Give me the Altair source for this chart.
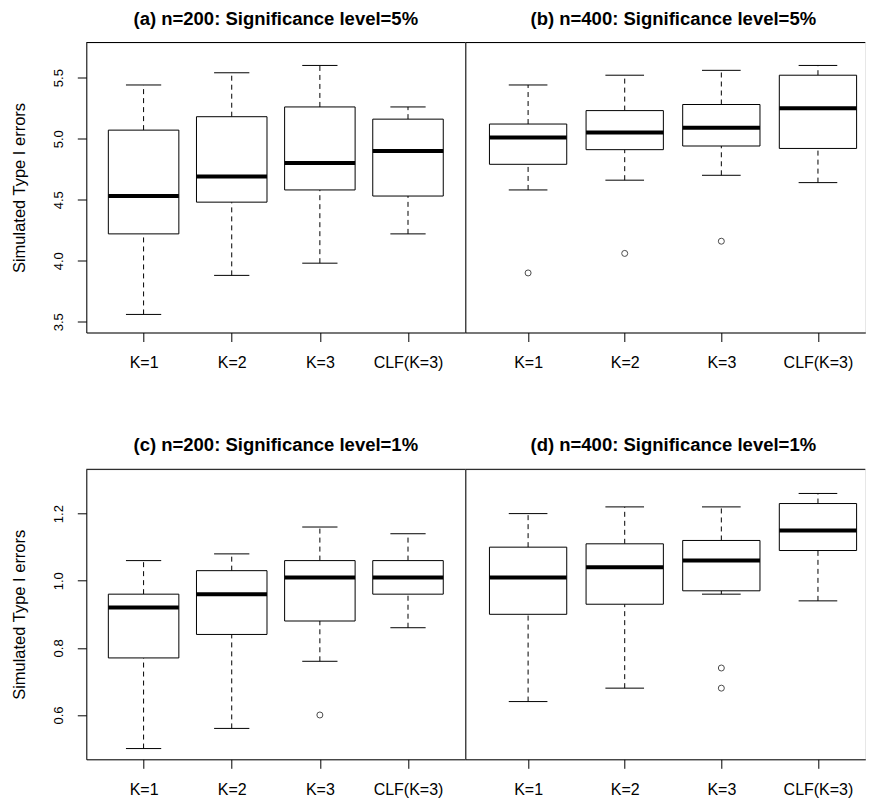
import altair as alt
import pandas as pd

categories = ["K=1", "K=2", "K=3", "CLF(K=3)"]
positions = [1, 2, 3, 4]

titles = [
    "(a) n=200: Significance level=5%",
    "(b) n=400: Significance level=5%",
    "(c) n=200: Significance level=1%",
    "(d) n=400: Significance level=1%",
]

# panel (a)
a_low = [3.56, 3.88, 3.98, 4.22]
a_q1 = [4.22, 4.48, 4.58, 4.53]
a_med = [4.53, 4.69, 4.80, 4.90]
a_q3 = [5.07, 5.18, 5.26, 5.16]
a_up = [5.44, 5.54, 5.60, 5.26]
a_out_cat = []
a_out_val = []

# panel (b)
b_low = [4.58, 4.66, 4.70, 4.64]
b_q1 = [4.79, 4.91, 4.94, 4.92]
b_med = [5.01, 5.05, 5.09, 5.25]
b_q3 = [5.12, 5.23, 5.28, 5.52]
b_up = [5.44, 5.52, 5.56, 5.60]
b_out_cat = ["K=1", "K=2", "K=3"]
b_out_val = [3.90, 4.06, 4.16]

# panel (c)
c_low = [0.50, 0.56, 0.76, 0.86]
c_q1 = [0.77, 0.84, 0.88, 0.96]
c_med = [0.92, 0.96, 1.01, 1.01]
c_q3 = [0.96, 1.03, 1.06, 1.06]
c_up = [1.06, 1.08, 1.16, 1.14]
c_out_cat = ["K=3"]
c_out_val = [0.60]

# panel (d)
d_low = [0.64, 0.68, 0.96, 0.94]
d_q1 = [0.90, 0.93, 0.97, 1.09]
d_med = [1.01, 1.04, 1.06, 1.15]
d_q3 = [1.10, 1.11, 1.12, 1.23]
d_up = [1.20, 1.22, 1.22, 1.26]
d_out_cat = ["K=3", "K=3"]
d_out_val = [0.74, 0.68]

top_domain = [3.412, 5.788]
top_ticks = [3.5, 4.0, 4.5, 5.0, 5.5]
bot_domain = [0.468, 1.332]
bot_ticks = [0.6, 0.8, 1.0, 1.2]

FONT = "Liberation Sans"
LEFT_W = 379
RIGHT_W = 400


def panel(title, low, q1, med, q3, up, out_cat, out_val, ydom, yvals, left, xmax, width, dx):
    df = pd.DataFrame({"cat": categories, "pos": positions, "low": low, "q1": q1,
                       "med": med, "q3": q3, "up": up})
    label_expr = "[" + ",".join("'%s'" % c for c in categories) + "][datum.value - 1]"
    xs = alt.Scale(domain=[0.35, xmax], nice=False, zero=False)
    ys = alt.Scale(domain=ydom, nice=False, zero=False)
    xaxis = alt.Axis(values=positions, labelExpr=label_expr, tickSize=9, labelPadding=26,
                     labelBaseline="alphabetic", labelFontSize=16, labelColor="black",
                     labelFont=FONT, domainColor="black", tickColor="black", grid=False,
                     title=None, labelAngle=0, labelFlush=False, labelOverlap=False)
    if left:
        yaxis = alt.Axis(values=yvals, format=".1f", tickSize=9, labelPadding=14.5,
                         labelAngle=270, labelAlign="center", labelBaseline="alphabetic",
                         labelFontSize=13, labelColor="black", labelFont=FONT,
                         title="Simulated Type I errors", titleFontSize=16.5,
                         titleFontWeight="normal", titleFont=FONT, titleColor="black",
                         titleX=-62, titleAngle=270, titleBaseline="alphabetic",
                         titleAlign="center", grid=False, domainColor="black",
                         tickColor="black", labelFlush=False, labelOverlap=False)
    else:
        yaxis = alt.Axis(labels=False, ticks=False, title=None, grid=False,
                         domainColor="black", minExtent=0, maxExtent=0)

    def X(f):
        return alt.X(f, type="quantitative", scale=xs, axis=xaxis)

    def Y(f):
        return alt.Y(f, type="quantitative", scale=ys, axis=yaxis)

    base = alt.Chart(df).transform_calculate(
        bl="datum.pos - 0.4", br="datum.pos + 0.4",
        cl="datum.pos - 0.2", cr="datum.pos + 0.2")

    wl = base.mark_rule(color="black", strokeDash=[5, 4], strokeWidth=1).encode(
        x=X("pos"), y=Y("low"), y2="q1")
    wh = base.mark_rule(color="black", strokeDash=[5, 4], strokeWidth=1).encode(
        x=X("pos"), y=Y("q3"), y2="up")
    cap_l = base.mark_rule(color="black", strokeWidth=1).encode(
        x=X("cl"), x2="cr:Q", y=Y("low"))
    cap_h = base.mark_rule(color="black", strokeWidth=1).encode(
        x=X("cl"), x2="cr:Q", y=Y("up"))
    box = base.mark_rect(fill="white", stroke="black", strokeWidth=1).encode(
        x=X("bl"), x2="br:Q", y=Y("q1"), y2="q3")
    medl = base.mark_rule(color="black", strokeWidth=4, strokeCap="butt").encode(
        x=X("bl"), x2="br:Q", y=Y("med"))
    frame = alt.Chart(pd.DataFrame({"frame": [0]})).mark_rule(
        color="black", strokeWidth=1).encode(
        x=alt.value(0), x2=alt.value(width), y=alt.value(0))

    layers = [wl, wh, cap_l, cap_h, box, medl]
    if out_val:
        odf = pd.DataFrame({"cat": out_cat, "val": out_val})
        odf["pos"] = [positions[categories.index(c)] for c in out_cat]
        pts = alt.Chart(odf).mark_point(shape="circle", filled=False, size=36,
                                        color="black", strokeWidth=1).encode(
            x=X("pos"), y=Y("val"))
        layers.append(pts)
    layers.append(frame)

    return alt.layer(*layers).properties(
        width=width, height=290,
        title=alt.TitleParams(title, fontSize=18.5, font=FONT, fontWeight="bold",
                              anchor="middle", frame="group", offset=-1,
                              baseline="alphabetic", dx=dx, color="black"))


pa = panel(titles[0], a_low, a_q1, a_med, a_q3, a_up, a_out_cat, a_out_val,
           top_domain, top_ticks, True, 4.65, LEFT_W, 0)
pb = panel(titles[1], b_low, b_q1, b_med, b_q3, b_up, b_out_cat, b_out_val,
           top_domain, top_ticks, False, 4.49, RIGHT_W, 8)
pc = panel(titles[2], c_low, c_q1, c_med, c_q3, c_up, c_out_cat, c_out_val,
           bot_domain, bot_ticks, True, 4.65, LEFT_W, 0)
pd_ = panel(titles[3], d_low, d_q1, d_med, d_q3, d_up, d_out_cat, d_out_val,
            bot_domain, bot_ticks, False, 4.49, RIGHT_W, 8)

chart = alt.concat(pa, pb, pc, pd_, columns=2,
                   spacing={"row": 136.8, "column": 0}, bounds="flush").properties(
    padding={"left": 2.3, "top": 0.5, "right": 0, "bottom": 0}
).configure_view(stroke=None).configure(background="white")

chart.save("out.html", embed_options={"renderer": "svg", "actions": False})
